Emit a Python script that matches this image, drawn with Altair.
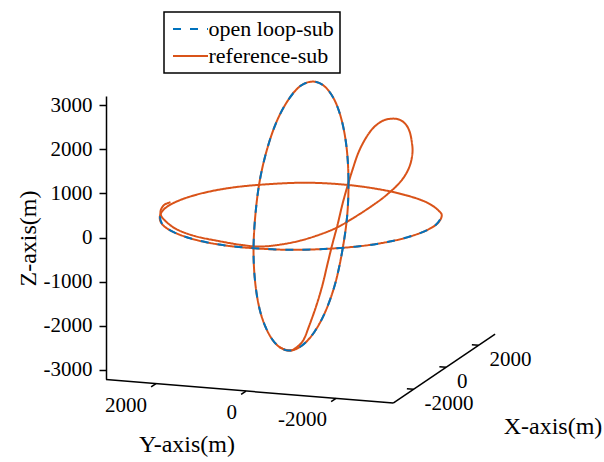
import altair as alt
import pandas as pd

# ---- curves: projected screen position (m) and Z (m) ----
# tall vertical loop (reference and open loop coincide)
tall_h = [1060, 1090, 1050, 940, 770, 540, 280, 0, -270, -530, -750, -920,
          -1020, -1060, -1020, -910, -730, -510, -250, 30, 310, 570, 790, 950]
tall_z = [490, 1280, 2010, 2640, 3120, 3430, 3530, 3430, 3120, 2640, 2010, 1280,
          490, -300, -1040, -1670, -2150, -2450, -2560, -2450, -2150, -1670, -1040, -300]

# horizontal loop of the reference
ring_h = [3200, 3120, 2850, 2380, 1740, 970, 140, -680, -1470, -2150, -2690, -3040,
          -3180, -3110, -2820, -2340, -1700, -950, -130, 710, 1490, 2170, 2710, 3060]
ring_z = [480, 620, 800, 960, 1100, 1200, 1240, 1210, 1140, 1020, 860, 680,
          480, 280, 100, -60, -180, -250, -280, -250, -180, -60, 100, 280]

# front half of the horizontal loop followed by the open loop
front_h = [-3180, -3110, -2820, -2340, -1700, -950, -130, 710, 1490, 2170, 2710, 3060, 3200]
front_z = [480, 280, 100, -60, -180, -250, -280, -250, -180, -60, 100, 280, 480]

# tilted loop of the reference
tilt_h = [-480, -250, -90, 70, 200, 360, 500, 610, 720, 840, 950, 1060, 1180, 1310, 1470,
          1650, 1860, 2060, 2240, 2380, 2470, 2520, 2540, 2490, 2380, 2220, 2040, 1810,
          1450, 1130, 840, 450, 0, -450, -910, -1360, -1880, -2380, -2790, -3030,
          -3150, -3160, -3080, -2940]
tilt_z = [-2480, -2560, -2490, -2320, -2000, -1550, -1080, -620, -170, 280, 740, 1140, 1530, 1910, 2230,
          2480, 2640, 2690, 2670, 2570, 2410, 2190, 1940, 1660, 1420, 1210, 1040, 850,
          600, 400, 230, 70, -70, -160, -205, -165, -75, 30, 180, 350,
          490, 620, 740, 800]

series = ["open loop-sub", "reference-sub"]
colors = ["#0072BD", "#D95319"]
dashes = [[8, 9], [1, 0]]

z_ticks = [-3000, -2000, -1000, 0, 1000, 2000, 3000]
y_ticks = [2000, 0, -2000]
x_ticks = [-2000, 0, 2000]

# 3D box limits and the view projection onto the screen (metres)
X_LIM = (-3260, 3015)
Y_LIM = (-3270, 3111)
Z_FLOOR = -3140


def proj(X, Y, Z):
    return (-31 + 0.3679 * X - 1.0188 * Y, 475 + 0.249 * X + 0.0833 * Y + Z)


def frame(hs, zs, name, curve):
    return pd.DataFrame({"h": hs, "z": zs, "series": name, "curve": curve,
                         "order": list(range(len(hs)))})


FONT = "Liberation Serif, Times New Roman, Tinos, DejaVu Serif, serif"
TICK_FS = 21
xs = alt.Scale(domain=[-4400, 6875], nice=False, zero=False)
ys = alt.Scale(domain=[-3204, 3204], nice=False, zero=False)
X = alt.X("h:Q", scale=xs, axis=None)
zaxis = alt.Axis(values=z_ticks, grid=False, tickSize=7, tickColor="black", tickWidth=1.5,
                 domainColor="black", domainWidth=1.5, labelFont=FONT, labelFontSize=TICK_FS,
                 labelColor="black", labelPadding=7, labelExpr="'' + datum.value",
                 title="Z-axis(m)", titleFont=FONT, titleFontSize=24, titleFontWeight="normal",
                 titleColor="black", titleX=-78, titleY=142, titleAngle=-90,
                 titleAlign="center", titleBaseline="middle")
Y = alt.Y("z:Q", scale=ys, axis=zaxis)

legend = alt.Legend(title=None, orient="none", legendX=58, legendY=-84,
                    symbolType="M-2,0L2,0", symbolSize=306, symbolStrokeWidth=2,
                    symbolOffset=9.5, labelOffset=7, labelFont=FONT, labelFontSize=22,
                    labelColor="black", padding=6, rowPadding=5, strokeColor="black",
                    fillColor="white", labelLimit=0)
C = alt.Color("series:N", scale=alt.Scale(domain=series, range=colors), legend=legend)
D = alt.StrokeDash("series:N", scale=alt.Scale(domain=series, range=dashes), legend=legend)

ref_closed = pd.concat([frame(ring_h, ring_z, series[1], "ring"),
                        frame(tall_h, tall_z, series[1], "tall")])
ref_open = frame(tilt_h, tilt_z, series[1], "tilt")
ol_closed = frame(tall_h, tall_z, series[0], "tall")
ol_open = frame(front_h, front_z, series[0], "front")


def curve(df, interp):
    return alt.Chart(df).mark_line(interpolate=interp, strokeWidth=2).encode(
        x=X, y=Y, color=C, strokeDash=D, detail="curve:N", order="order:Q")


layers = [curve(ref_closed, "cardinal-closed"), curve(ref_open, "cardinal"),
          curve(ol_closed, "cardinal-closed"), curve(ol_open, "cardinal")]

# floor axes of the 3D box
a = proj(X_LIM[0], Y_LIM[1], Z_FLOOR)
b = proj(X_LIM[0], Y_LIM[0], Z_FLOOR)
c = proj(X_LIM[1], Y_LIM[0], Z_FLOOR)
axes_df = pd.DataFrame({"h": [a[0], b[0]], "z": [a[1], b[1]],
                        "h2": [b[0], c[0]], "z2": [b[1], c[1]]})
ticks = []
for v in y_ticks:
    p, q = proj(X_LIM[0], v, Z_FLOOR), proj(X_LIM[0] - 300, v, Z_FLOOR)
    ticks.append({"h": p[0], "z": p[1], "h2": q[0], "z2": q[1], "label": str(v), "axis": "Y"})
for v in x_ticks:
    p, q = proj(v, Y_LIM[0], Z_FLOOR), proj(v, Y_LIM[0] + 150, Z_FLOOR)
    ticks.append({"h": p[0], "z": p[1], "h2": q[0], "z2": q[1], "label": str(v), "axis": "X"})
ticks_df = pd.DataFrame(ticks)

X2 = alt.X2("h2:Q")
Y2 = alt.Y2("z2:Q")
axis_lines = alt.Chart(axes_df).mark_rule(color="black", strokeWidth=1.5).encode(
    x=X, y=Y, x2=X2, y2=Y2)
tick_lines = alt.Chart(ticks_df).mark_rule(color="black", strokeWidth=1.5).encode(
    x=X, y=Y, x2=X2, y2=Y2)
ylabels = alt.Chart(ticks_df).transform_filter("datum.axis == 'Y'").mark_text(
    font=FONT, fontSize=TICK_FS, color="black", align="right", baseline="middle",
    dx=-9, dy=22).encode(x=X, y=Y, text="label:N")
xlabels = alt.Chart(ticks_df).transform_filter("datum.axis == 'X'").mark_text(
    font=FONT, fontSize=TICK_FS, color="black", align="left", baseline="middle",
    dx=11, dy=15).encode(x=X, y=Y, text="label:N")

title_df = pd.DataFrame({"t": ["Y-axis(m)", "X-axis(m)"]})
ytitle = alt.Chart(title_df).transform_filter("datum.t == 'Y-axis(m)'").mark_text(
    font=FONT, fontSize=24, color="black", align="center", baseline="middle").encode(
    x=alt.value(81), y=alt.value(349), text="t:N")
xtitle = alt.Chart(title_df).transform_filter("datum.t == 'X-axis(m)'").mark_text(
    font=FONT, fontSize=24, color="black", align="center", baseline="middle").encode(
    x=alt.value(447), y=alt.value(331), text="t:N")

chart = alt.layer(axis_lines, tick_lines, ylabels, xlabels, ytitle, xtitle, *layers).properties(
    width=498, height=283,
    autosize=alt.AutoSizeParams(type="none"),
    padding={"left": 106, "top": 96, "right": 0, "bottom": 83},
    background="white",
).configure_view(stroke=None).configure_legend(strokeWidth=1.5)

chart.save("out.html", embed_options={"renderer": "svg", "actions": False})
